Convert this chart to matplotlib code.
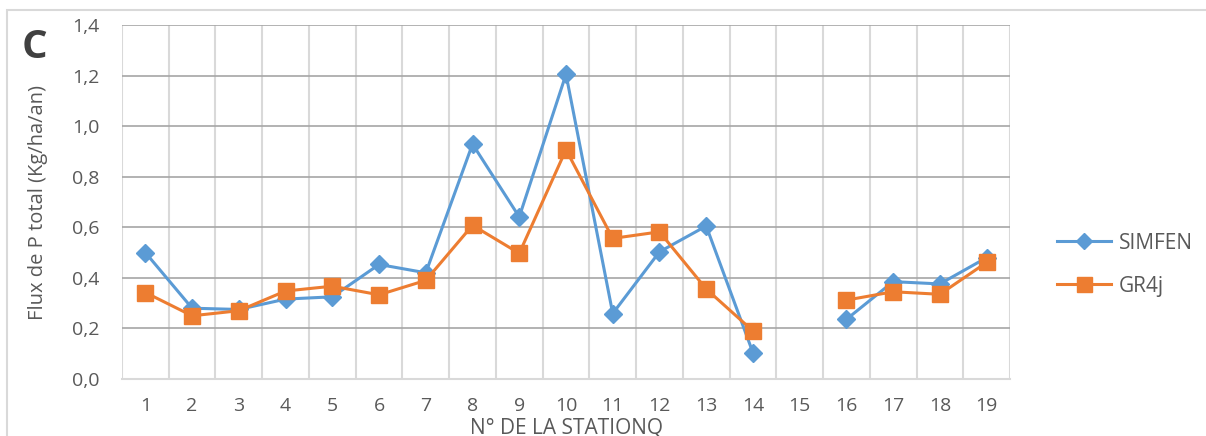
import numpy as np
import matplotlib
matplotlib.use("Agg")
import matplotlib.pyplot as plt
from matplotlib.patches import Rectangle

stations = [str(i) for i in range(1, 20)]
simfen = [0.500, 0.280, 0.275, 0.316, 0.325, 0.453, 0.420, 0.929, 0.641, 1.205,
          0.259, 0.503, 0.605, 0.104, np.nan, 0.236, 0.385, 0.376, 0.480]
gr4j = [0.342, 0.250, 0.270, 0.348, 0.367, 0.333, 0.390, 0.608, 0.497, 0.907,
        0.556, 0.582, 0.356, 0.190, np.nan, 0.312, 0.345, 0.335, 0.461]
yticks = [0.0, 0.2, 0.4, 0.6, 0.8, 1.0, 1.2, 1.4]
ytick_labels = ["0,0", "0,2", "0,4", "0,6", "0,8", "1,0", "1,2", "1,4"]

plt.rcParams['font.family'] = ['Open Sans', 'DejaVu Sans']
txt = '#595959'

fig = plt.figure(figsize=(12.06, 4.36), dpi=100)
fig.patches.append(Rectangle((7/1206, -0.1), 1.2, 1.1 - 10/436, transform=fig.transFigure,
                             fill=False, edgecolor='#d9d9d9', linewidth=1.5))
ax = fig.add_axes([122/1206, 1 - 379/436, (1010-122)/1206, (379-25)/436])

x = np.arange(len(stations))
ax.plot(x, simfen, color='#5B9BD5', lw=2.2, marker='D', ms=8.8, label='SIMFEN', zorder=3)
ax.plot(x, gr4j, color='#ED7D31', lw=2.2, marker='s', ms=12, label='GR4j', zorder=4)

ax.set_xlim(-0.5, len(stations) - 0.5)
ax.set_ylim(0, 1.4)
ax.set_yticks(yticks)
ax.set_yticklabels(ytick_labels)
ax.set_xticks(x)
ax.set_xticklabels(stations)
ax.set_xticks(np.arange(-0.5, len(stations)), minor=True)
ax.grid(True, which='minor', axis='x', color='#d9d9d9', lw=1.5)
ax.grid(True, which='major', axis='y', color='#a6a6a6', lw=1.2)
ax.set_axisbelow(True)
for s in ['top', 'right', 'left']:
    ax.spines[s].set_visible(False)
ax.spines['bottom'].set_color('#d9d9d9')
ax.spines['bottom'].set_linewidth(1.5)
ax.tick_params(axis='both', which='both', length=0, colors=txt, labelsize=14)
ax.tick_params(axis='y', pad=16)
ax.tick_params(axis='x', pad=13)

ax.set_xlabel('N° DE LA STATIONQ', color=txt, fontsize=15)
ax.xaxis.set_label_coords(0.5, -0.108)
ax.set_ylabel('Flux de P total (Kg/ha/an)', color=txt, fontsize=14.5)
ax.yaxis.set_label_coords(-74/888, 0.5)

fig.text(22/1206, 1 - 48/436, 'C', fontsize=29, fontweight='bold', color='#404040',
         va='center', ha='left')

leg = ax.legend(loc='center left', bbox_to_anchor=(1.032, 0.323), frameon=False,
                fontsize=15, labelcolor=txt, handlelength=2.6, labelspacing=1.05,
                handletextpad=0.35, markerscale=0.9)

fig.savefig('out.png', dpi=100)
